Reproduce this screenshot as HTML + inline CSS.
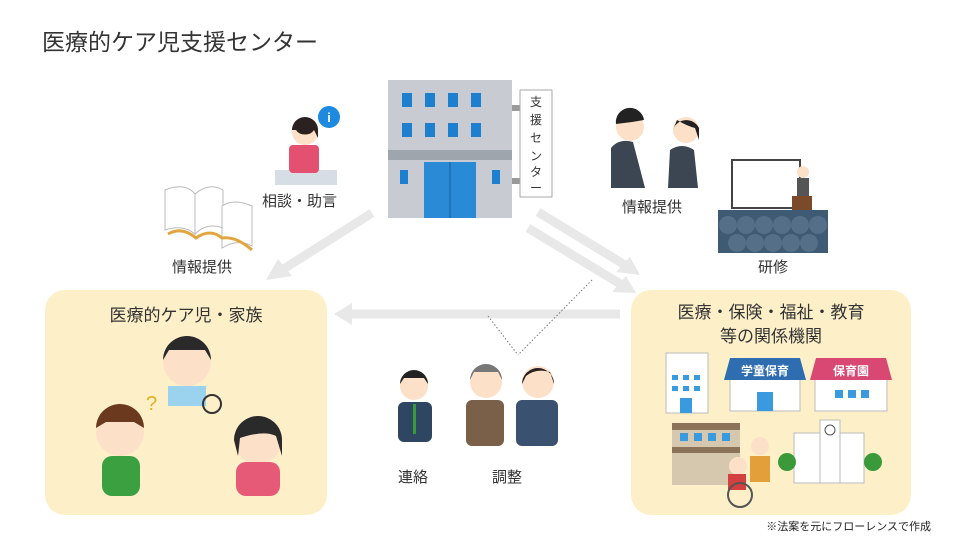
<!DOCTYPE html>
<html><head><meta charset="utf-8"><style>
body{margin:0;width:960px;height:540px;background:#fff;overflow:hidden;font-family:"Liberation Sans","Noto Sans CJK JP",sans-serif}
</style></head><body>
<svg width="960" height="540" viewBox="0 0 960 540" xmlns="http://www.w3.org/2000/svg" font-family="Liberation Sans, Noto Sans CJK JP, sans-serif">
<text x="42" y="50" font-size="23" fill="#333">医療的ケア児支援センター</text>
<!-- boxes -->
<rect x="45" y="290" width="282" height="225" rx="20" fill="#fdf0c9"/>
<rect x="631" y="290" width="280" height="225" rx="20" fill="#fdf0c9"/>
<!-- arrows -->
<g stroke="#e8e8e8" stroke-width="9" fill="#e8e8e8">
<line x1="372" y1="213" x2="282" y2="270"/>
<line x1="528" y1="228" x2="622" y2="285"/>
<line x1="538" y1="212" x2="625" y2="265"/>
<line x1="620" y1="314" x2="350" y2="314"/>
</g>
<g fill="#e8e8e8">
<polygon points="266,280 278,259 292,276"/>
<polygon points="636,293 612,292 626,276"/>
<polygon points="640,275 616,272 630,257"/>
<polygon points="334,314 352,303 352,325"/>
</g>
<g stroke="#777" stroke-width="1" stroke-dasharray="1.5,2" fill="none">
<line x1="592" y1="280" x2="518" y2="355"/><line x1="488" y1="316" x2="518" y2="355"/>
</g>
<!-- building -->
<rect x="388" y="80" width="124" height="138" fill="#c8ccd2"/>
<rect x="388" y="150" width="124" height="10" fill="#9ea5ad"/>
<g fill="#1f7fcf">
<rect x="402" y="93" width="10" height="14"/><rect x="425" y="93" width="10" height="14"/><rect x="448" y="93" width="10" height="14"/><rect x="471" y="93" width="10" height="14"/>
<rect x="402" y="123" width="10" height="14"/><rect x="425" y="123" width="10" height="14"/><rect x="448" y="123" width="10" height="14"/><rect x="471" y="123" width="10" height="14"/>
<rect x="400" y="170" width="8" height="14"/><rect x="492" y="170" width="8" height="14"/>
<rect x="424" y="162" width="52" height="56" fill="#2a8ad6"/></g>
<line x1="450" y1="162" x2="450" y2="218" stroke="#17609e"/>
<rect x="512" y="105" width="8" height="6" fill="#999"/><rect x="512" y="178" width="8" height="6" fill="#999"/>
<rect x="520" y="90" width="32" height="107" fill="#fff" stroke="#aaa"/>
<g font-size="12" fill="#333" text-anchor="middle"><text x="536" y="106">支</text><text x="536" y="124">援</text><text x="536" y="142">セ</text><text x="536" y="160">ン</text><text x="536" y="176">タ</text><text x="536" y="192">ー</text></g>
<!-- consult woman -->
<rect x="275" y="170" width="62" height="15" fill="#d7dde4"/>
<circle cx="329" cy="117" r="11" fill="#1d8ae0"/><text x="329" y="122" font-size="13" fill="#fff" text-anchor="middle" font-weight="bold">i</text>
<rect x="289" y="145" width="30" height="28" rx="4" fill="#e35070"/>
<circle cx="305" cy="132" r="13" fill="#fde0c8"/><path d="M292 130 a13 13 0 0 1 26 0 l0 8 l-4 -8 a10 8 0 0 1 -18 0z" fill="#2b2121"/>
<text x="262" y="206" font-size="15" fill="#333">相談・助言</text>
<!-- books -->
<g stroke="#bbb" fill="#fff"><path d="M165 190 q20 -8 30 4 v40 q-12 -10 -30 -4z"/><path d="M195 194 q14 -12 28 -4 v38 q-16 -6 -28 6z"/><path d="M222 206 q12 -8 30 0 v40 q-14 -8 -30 2z"/></g>
<path d="M168 234 q14 -8 28 4 q14 -10 26 0 q14 -2 30 12" stroke="#e3a53e" stroke-width="3" fill="none"/>
<text x="172" y="272" font-size="15" fill="#333">情報提供</text>
<!-- meeting -->
<path d="M611 188 l0 -40 q8 -10 22 -6 l12 46z" fill="#3c4652"/><circle cx="630" cy="127" r="14" fill="#fde0c8"/><path d="M616 124 a14 14 0 0 1 28 -4 l-12 2z" fill="#222"/>
<path d="M668 188 l2 -38 q12 -8 24 0 l4 38z" fill="#3c4652"/><circle cx="686" cy="130" r="13" fill="#fde0c8"/><path d="M673 130 a14 14 0 0 1 26 -2 l0 12 l-4 -12 q-8 -2 -18 -8 z" fill="#222"/>
<text x="622" y="212" font-size="15" fill="#333">情報提供</text>
<!-- lecture -->
<rect x="732" y="160" width="68" height="48" fill="#fff" stroke="#444" stroke-width="2"/>
<rect x="792" y="196" width="20" height="18" fill="#7a4a2a"/><circle cx="803" cy="172" r="6" fill="#fde0c8"/><rect x="797" y="178" width="12" height="18" fill="#555"/>
<rect x="718" y="210" width="110" height="43" fill="#3f5a73"/>
<g fill="#556f88"><circle cx="728" cy="225" r="9"/><circle cx="746" cy="225" r="9"/><circle cx="764" cy="225" r="9"/><circle cx="782" cy="225" r="9"/><circle cx="800" cy="225" r="9"/><circle cx="818" cy="225" r="9"/><circle cx="737" cy="243" r="9"/><circle cx="755" cy="243" r="9"/><circle cx="773" cy="243" r="9"/><circle cx="791" cy="243" r="9"/><circle cx="809" cy="243" r="9"/></g>
<text x="758" y="272" font-size="15" fill="#333">研修</text>
<!-- left box -->
<text x="186" y="321" font-size="17" fill="#333" text-anchor="middle">医療的ケア児・家族</text>
<circle cx="187" cy="362" r="24" fill="#fde0c8"/><path d="M163 360 a24 24 0 0 1 48 0 l-6 -10 l-36 0z" fill="#2a2a2a"/><rect x="168" y="386" width="38" height="20" fill="#9bd2ee"/>
<text x="146" y="410" font-size="20" fill="#e0b020">?</text>
<circle cx="120" cy="432" r="24" fill="#fde0c8"/><path d="M96 428 a24 24 0 0 1 48 0 l-10 -6 l-28 0z" fill="#6b3a1e"/><rect x="102" y="456" width="38" height="40" rx="10" fill="#3aa040"/>
<circle cx="212" cy="404" r="9" fill="none" stroke="#333" stroke-width="2"/>
<circle cx="258" cy="440" r="24" fill="#fde0c8"/><path d="M234 440 a24 24 0 0 1 48 0 v16 l-6 -20 q-12 -6 -36 2 l-2 18z" fill="#2a2a2a"/><rect x="236" y="462" width="44" height="34" rx="10" fill="#e65a78"/>
<!-- center people -->
<circle cx="414" cy="386" r="14" fill="#fde0c8"/><path d="M400 384 a14 14 0 0 1 28 0 l-4 -6 l-20 0z" fill="#222"/><rect x="398" y="402" width="34" height="40" rx="6" fill="#2e4662"/><rect x="413" y="404" width="3" height="30" fill="#3a9a3a"/>
<circle cx="486" cy="382" r="16" fill="#fde0c8"/><path d="M470 380 a16 16 0 0 1 32 0 l-4 -8 l-24 0z" fill="#777"/><rect x="466" y="400" width="38" height="46" rx="6" fill="#7a6048"/>
<circle cx="538" cy="382" r="16" fill="#fde0c8"/><path d="M522 384 a16 16 0 0 1 32 0 l-4 -12 q-14 -4 -24 4z" fill="#2a2222"/><rect x="516" y="400" width="42" height="46" rx="6" fill="#3a5270"/>
<text x="398" y="482" font-size="15" fill="#333">連絡</text><text x="492" y="482" font-size="15" fill="#333">調整</text>
<!-- right box -->
<text x="771" y="318" font-size="17" fill="#333" text-anchor="middle">医療・保険・福祉・教育</text>
<text x="771" y="342" font-size="17" fill="#333" text-anchor="middle">等の関係機関</text>
<rect x="666" y="353" width="42" height="60" fill="#fff" stroke="#bbb"/><g fill="#3a9ae0"><rect x="672" y="375" width="6" height="5"/><rect x="683" y="375" width="6" height="5"/><rect x="694" y="375" width="6" height="5"/><rect x="672" y="386" width="6" height="5"/><rect x="683" y="386" width="6" height="5"/><rect x="694" y="386" width="6" height="5"/><rect x="680" y="398" width="12" height="15"/></g>
<rect x="730" y="378" width="70" height="33" fill="#fff" stroke="#bbb"/><path d="M724 380 l6 -22 h70 l6 22z" fill="#2d6db0"/><text x="765" y="375" font-size="12" fill="#fff" text-anchor="middle" font-weight="bold">学童保育</text><rect x="757" y="392" width="16" height="19" fill="#3a9ae0"/>
<rect x="815" y="378" width="72" height="33" fill="#fff" stroke="#bbb"/><path d="M810 380 l6 -22 h70 l6 22z" fill="#d94872"/><text x="851" y="375" font-size="12" fill="#fff" text-anchor="middle" font-weight="bold">保育園</text>
<g fill="#3a9ae0"><rect x="835" y="390" width="8" height="8"/><rect x="848" y="390" width="8" height="8"/><rect x="861" y="390" width="8" height="8"/></g>
<rect x="672" y="423" width="68" height="62" fill="#d6c8ae"/><rect x="672" y="423" width="68" height="7" fill="#8a7358"/><rect x="672" y="447" width="68" height="6" fill="#8a7358"/>
<g fill="#3a9ae0"><rect x="680" y="433" width="8" height="8"/><rect x="694" y="433" width="8" height="8"/><rect x="708" y="433" width="8" height="8"/><rect x="722" y="433" width="8" height="8"/></g>
<rect x="794" y="433" width="70" height="50" fill="#fff" stroke="#bbb"/><rect x="820" y="420" width="20" height="63" fill="#fff" stroke="#bbb"/><circle cx="830" cy="430" r="5" fill="#fff" stroke="#555"/>
<circle cx="787" cy="462" r="9" fill="#3a9a3a"/><circle cx="873" cy="462" r="9" fill="#3a9a3a"/>
<circle cx="760" cy="446" r="9" fill="#fde0c8"/><rect x="750" y="456" width="20" height="26" fill="#e3a03a"/>
<circle cx="738" cy="466" r="9" fill="#fde0c8"/><rect x="728" y="474" width="18" height="16" fill="#d24040"/><circle cx="740" cy="495" r="12" fill="none" stroke="#555" stroke-width="2"/>
<text x="931" y="530" font-size="11" fill="#222" text-anchor="end">※法案を元にフローレンスで作成</text>
</svg>
</body></html>
